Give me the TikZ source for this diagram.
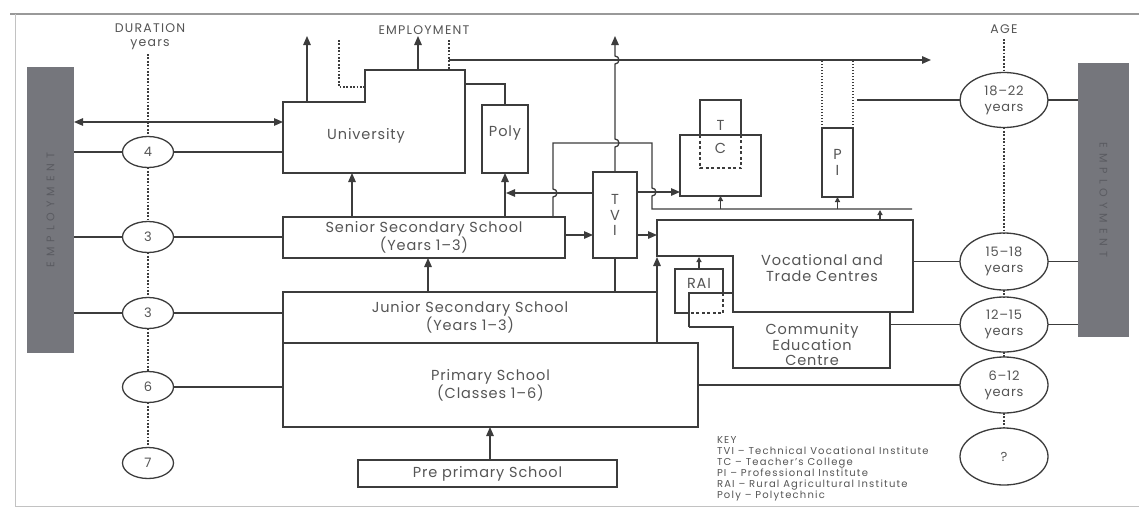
\documentclass[tikz,border=0pt]{standalone}
\usepackage{fontspec}
\setmainfont{Poppins}[LetterSpace=6]
\usetikzlibrary{arrows.meta,shapes.geometric}
\definecolor{ink}{HTML}{3C3C3C}
\definecolor{txt}{HTML}{555555}
\definecolor{barc}{HTML}{75767C}
\definecolor{bartxt}{HTML}{5A5B61}
\definecolor{framec}{HTML}{999999}
\begin{document}
\begin{tikzpicture}[x=1pt,y=-1pt,line width=1.3pt,
  every node/.style={inner sep=0pt, outer sep=0pt},
  box/.style={draw=ink, rectangle},
  hid/.style={rectangle},
  lbl/.style={text=txt, font=\fontsize{14.5}{15.5}\selectfont, align=center},
  head/.style={text=txt, font=\fontsize{12.5}{14}\selectfont\addfontfeatures{LetterSpace=10}, align=center},
  oval/.style={ellipse, draw=ink, text=txt, font=\fontsize{13}{16}\selectfont, align=center},
  arr/.style={draw=ink, -{Triangle[length=9pt,width=7.5pt]}},
  darr/.style={draw=ink, {Triangle[length=9pt,width=7.5pt]}-{Triangle[length=9pt,width=7.5pt]}},
  tiny/.style={draw=ink, -{Triangle[length=5pt,width=5pt]}},
  dots/.style={draw=ink, line width=2pt, dash pattern=on 1.8pt off 1.6pt},
  thindots/.style={draw=ink, line width=1.2pt, dash pattern=on 1.5pt off 1.5pt},
  dashedline/.style={draw=ink, dash pattern=on 3pt off 2.5pt},
  ln/.style={draw=ink},
  bartext/.style={rotate=-90, text=bartxt, font=\fontsize{11}{12}\selectfont\addfontfeatures{LetterSpace=45}}]
\useasboundingbox (0,0) rectangle (1139,514);
\fill[white] (0,0) rectangle (1139,514);
% frame
\draw[framec, line width=1.8pt] (10,14) -- (1139,14);
\draw[framec!60, line width=1pt] (15,14) -- (15,506) -- (1139,506);

% side bars
\node[rectangle, fill=barc, minimum width=47pt, minimum height=286pt] (lbar) at (50.5,210) {};
\node[bartext, rotate=180] at (lbar) {EMPLOYMENT};
\node[rectangle, fill=barc, minimum width=51pt, minimum height=274pt] (rbar) at (1103.5,200) {};
\node[bartext] at (rbar) {EMPLOYMENT};

% headings
\node[head] (dur) at (150,37) {DURATION\\years};
\node[head] (emp) at (424,30) {EMPLOYMENT};
\node[head] (age) at (1004,29) {AGE};
\coordinate (durtop) at (148,54);
\coordinate (agetop) at (1004,39);

% duration ovals
\node[oval, minimum width=51pt, minimum height=31pt] (d4) at (148,152) {4};
\node[oval, minimum width=51pt, minimum height=31pt] (d3a) at (148,237) {3};
\node[oval, minimum width=51pt, minimum height=31pt] (d3b) at (148,313) {3};
\node[oval, minimum width=51pt, minimum height=31pt] (d6) at (148,387) {6};
\node[oval, minimum width=51pt, minimum height=31pt] (d7) at (148,463) {7};

% age ovals
\node[oval, minimum width=88pt, minimum height=55pt] (a1) at (1004,100) {18–22\\years};
\node[oval, minimum width=88pt, minimum height=57pt] (a2) at (1004,261.5) {15–18\\years};
\node[oval, minimum width=88pt, minimum height=55pt] (a3) at (1004,324.5) {12–15\\years};
\node[oval, minimum width=88pt, minimum height=56pt] (a4) at (1004,385) {6–12\\years};
\node[oval, minimum width=88pt, minimum height=57pt] (a5) at (1004,456.5) {?};

% university
\node[hid, minimum width=182pt, minimum height=71pt] (univ) at (374,137.5) {};
\draw[ln] (univ.south west) -- (univ.north west) -- (365,102) -- (365,70) -- (465,70) -- (univ.south east) -- cycle;
\node[lbl] at (366,136) {University};

% poly
\node[box, minimum width=46pt, minimum height=68pt] (poly) at (505,139) {};
\node[lbl] at (505,133) {Poly};

% teachers college
\node[box, minimum width=81pt, minimum height=61pt] (tc) at (720.5,165.5) {};
\draw[ln] (700,135) -- (700,100) -- (741,100) -- (741,135);
\draw[dashedline] (700,135) -- (700,168) -- (741,168) -- (741,135);
\node[lbl] at (720.5,125) {T};
\node[lbl] at (720.5,148) {C};

% professional institute
\node[box, minimum width=31pt, minimum height=69pt, lbl] (pi) at (837.5,162.5) {P\\I};
\draw[thindots] (pi.north west) -- (822,60);
\draw[thindots] (pi.north east) -- (853,60);

% senior secondary
\node[box, minimum width=282pt, minimum height=41pt, lbl] (sss) at (424,237.5) {Senior Secondary School\\(Years 1–3)};

% TVI
\node[box, minimum width=44pt, minimum height=86pt, lbl] (tvi) at (615,215) {T\\V\\I};

% vocational
\node[hid, minimum width=256pt, minimum height=92pt] (voc) at (785,266) {};
\draw[ln] (voc.north west) -- (voc.north east) -- (voc.south east) -- (733,312) -- (733,256) -- (657,256) -- cycle;
\node[lbl] at (822,268) {Vocational and\\Trade Centres};

% RAI
\node[hid, minimum width=48pt, minimum height=44pt] (rai) at (699,291) {};
\draw[ln] (689,313) -- (675,313) -- (675,269) -- (723,269) -- (723,293);
\draw[dashedline] (723,293) -- (723,313) -- (689,313);
\node[lbl] at (699,283) {RAI};

% community education centre
\node[hid, minimum width=157pt, minimum height=56pt] (cec) at (811.5,340) {};
\draw[ln] (689,327) -- (689,293) -- (733,293);
\draw[ln] (cec.north east) -- (cec.south east) -- (cec.south west) -- (733,327) -- (689,327);
\node[lbl] at (812,345) {Community\\Education\\Centre};

% junior secondary, primary, pre-primary
\node[box, minimum width=374pt, minimum height=51pt, lbl] (jss) at (470,317.5) {Junior Secondary School\\(Years 1–3)};
\node[box, minimum width=415pt, minimum height=84pt, lbl] (prim) at (490.5,385) {Primary School\\(Classes 1–6)};
\node[box, minimum width=259pt, minimum height=27pt, lbl] (pre) at (487.5,473.5) {Pre primary School};

% key
\node[anchor=north west, align=left, text=txt, font=\fontsize{10}{11}\selectfont\addfontfeatures{LetterSpace=12}] (key) at (717,437)
 {KEY\\TVI – Technical Vocational Institute\\TC – Teacher's College\\PI – Professional Institute\\RAI – Rural Agricultural Institute\\Poly – Polytechnic};

% dotted spines
\draw[dots] (durtop) -- (d4.north);
\draw[dots] (d4.south) -- (d3a.north);
\draw[dots] (d3a.south) -- (d3b.north);
\draw[dots] (d3b.south) -- (d6.north);
\draw[dots] (d6.south) -- (d7.north);
\draw[dots] (agetop) -- (a1.north);
\draw[dots] (a1.south) -- (a2.north);
\draw[dots] (a2.south) -- (a3.north);
\draw[dots] (a3.south) -- (a4.north);
\draw[dots] (a4.south) -- (a5.north);

% duration links
\draw[darr] (lbar.east |- 0,122) -- (univ.west |- 0,122);
\draw[ln] (lbar.east |- d4) -- (d4.west);
\draw[ln] (d4.east) -- (univ.west |- d4);
\draw[ln] (lbar.east |- d3a) -- (d3a.west);
\draw[ln] (d3a.east) -- (sss.west |- d3a);
\draw[ln] (lbar.east |- d3b) -- (d3b.west);
\draw[ln] (d3b.east) -- (jss.west |- d3b);
\draw[ln] (d6.east) -- (prim.west |- d6);

% age links
\coordinate (piout) at (857,100);
\draw[ln] (piout) -- (a1.west);
\draw[ln] (a1.east) -- (rbar.west |- a1);
\draw[ln] (voc.east |- a2) -- (a2.west);
\draw[ln] (a2.east) -- (rbar.west |- a2);
\draw[ln] (cec.east |- a3) -- (a3.west);
\draw[ln] (a3.east) -- (rbar.west |- a3);
\draw[ln] (prim.east |- a4) -- (a4.west);

% employment flows
\draw[arr] (307,102) -- (307,36);
\draw[arr] (418,70) -- (418,36);
\draw[dots] (339,40) -- (339,87) -- (365,87);
\draw[dots] (449,40) -- (449,70);
\draw[arr] (449,60) -- (931,60);
\draw[ln] (univ.east |- 0,84) -- (poly.north |- 0,84) -- (poly.north);

% upward flows
\draw[arr] (352,217) -- (352,173);
\draw[arr] (poly.south |- sss.north) -- (poly.south);
\draw[arr] (tvi.west |- 0,193) -- (506,193);
\draw[ln] (553,217) -- (553,197) arc[start angle=-90, end angle=90, radius=4pt] -- (553,143) -- (652,143)
  -- (652,188) arc[start angle=90, end angle=-90, radius=4pt] -- (652,209) -- (912,209);
\draw[arr] (tvi.north) -- (615,147) arc[start angle=-90, end angle=90, radius=4pt]
  -- (615,64) arc[start angle=-90, end angle=90, radius=4pt] -- (615,36);
\draw[arr] (tvi.east |- 0,192) -- (tc.west |- 0,192);
\draw[arr] (sss.east |- 0,235) -- (tvi.west |- 0,235);
\draw[arr] (tvi.east |- 0,235) -- (voc.west |- 0,235);
\draw[tiny] (tc.south |- 0,209) -- (tc.south);
\draw[tiny] (pi.south |- 0,209) -- (pi.south);
\draw[tiny] (880,220) -- (880,210);
\draw[arr] (428,292) -- (428,258);
\draw[ln] (tvi.south |- jss.north) -- (tvi.south);
\draw[arr] (jss.north east) -- (657,257);
\draw[tiny] (rai.north) -- (rai.north |- 0,257);
\draw[arr] (pre.north -| 490,0) -- (prim.south -| 490,0);
\end{tikzpicture}
\end{document}
